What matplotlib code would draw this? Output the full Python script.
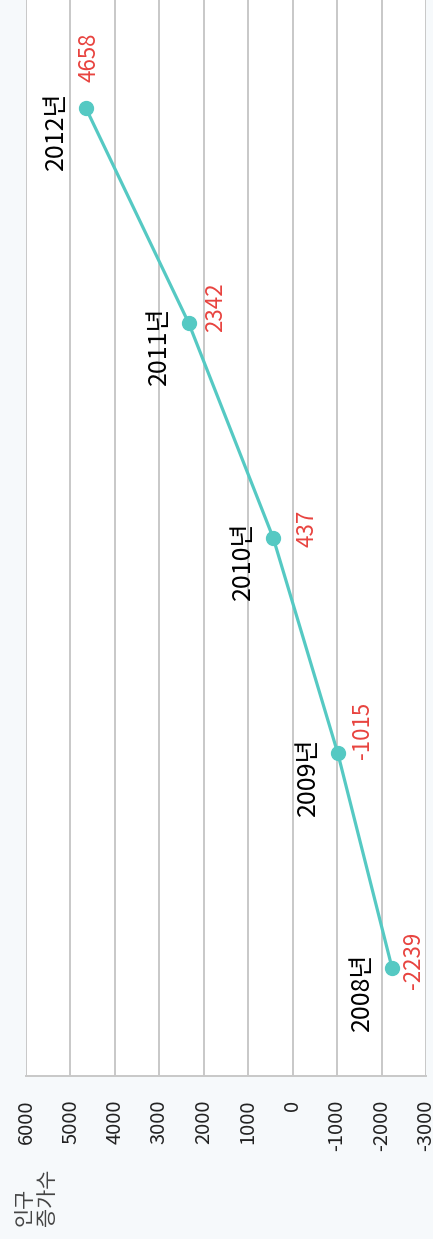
import matplotlib.pyplot as plt

plt.rcParams['font.family'] = ['Noto Sans CJK KR', 'DejaVu Sans']

years = [2008, 2009, 2010, 2011, 2012]
year_labels = ['2008년', '2009년', '2010년', '2011년', '2012년']
increase = [-2239, -1015, 437, 2342, 4658]
ticks = [6000, 5000, 4000, 3000, 2000, 1000, 0, -1000, -2000, -3000]

# label offsets in pixels (right, up) as placed in the picture
value_offsets = [(21, 8), (25, 23), (34, 10), (27, 16), (3, 50)]

fig = plt.figure(figsize=(4.33, 12.39), dpi=100, facecolor='#f6f9fb')
ax = fig.add_axes([26 / 433, 1 - 1076 / 1239, 400 / 433, 1076 / 1239])
ax.set_facecolor('white')

# chart is drawn turned on its side: values run right to left, years bottom to top
ax.plot(increase, years, color='#55c9c3', lw=2.3, marker='o', ms=10, zorder=3)

for x, y, yl, val, off in zip(increase, years, year_labels, increase, value_offsets):
    ax.annotate(str(val), (x, y), xytext=off, textcoords='offset pixels',
                rotation=90, ha='center', va='center', color='#e8433f', fontsize=16)
    ax.annotate(yl, (x, y), xytext=(-30, 16), textcoords='offset pixels',
                rotation=90, ha='center', va='top', color='black', fontsize=18)

ax.set_xlim(6000, -3000)
ax.set_ylim(2007.5, 2012.5)
ax.set_xticks(ticks)
ax.set_xticklabels([str(t) for t in ticks], rotation=90, fontsize=14.5, color='#222222')
ax.set_yticks([])
ax.tick_params(axis='x', length=0, pad=17)
ax.grid(axis='x', color='#c8c8c8', lw=1.4)
ax.set_axisbelow(True)
for s in ['top', 'right', 'left']:
    ax.spines[s].set_visible(False)
ax.spines['bottom'].set_color('#c8c8c8')
ax.spines['bottom'].set_linewidth(1.4)

fig.text(36 / 433, 1 - 1226 / 1239, '인구\n증가수', rotation=90, ha='center', va='bottom',
         multialignment='left', fontsize=15, color='#444444', linespacing=1.0)

fig.savefig('out.png', dpi=100, facecolor=fig.get_facecolor())
